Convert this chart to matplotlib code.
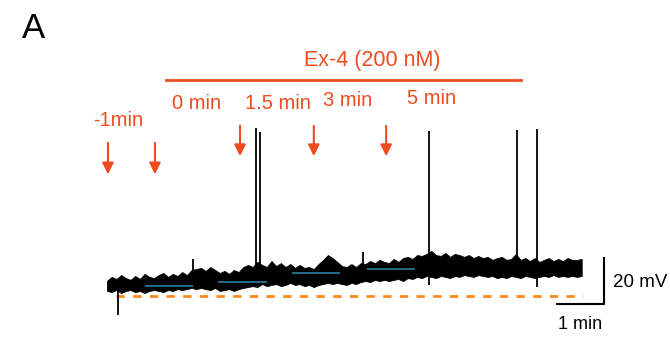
import numpy as np
import matplotlib
matplotlib.use("Agg")
import matplotlib.pyplot as plt

plt.rcParams['font.family'] = ['Liberation Sans', 'DejaVu Sans']

# membrane potential trace, minutes vs mV (relative to the dashed baseline)
t = np.round(np.arange(102) * 0.1, 1)
v_top = [6.6, 8.3, 7.4, 9.1, 7.8, 7.0, 8.7, 7.4, 9.6, 8.3,
         7.8, 9.1, 10.0, 8.3, 9.6, 8.7, 10.4, 9.1, 11.3, 11.7,
         12.2, 10.9, 12.6, 11.3, 10.0, 10.9, 9.6, 11.3, 10.4, 12.6,
         13.5, 12.6, 14.8, 13.5, 12.6, 15.2, 13.0, 14.3, 12.6, 13.9,
         12.2, 13.5, 12.2, 12.6, 11.7, 13.9, 15.7, 17.8, 16.5, 14.8,
         13.0, 12.6, 13.9, 12.6, 14.3, 13.9, 15.2, 14.3, 15.7, 14.8,
         14.3, 16.1, 14.8, 16.5, 17.0, 16.1, 17.8, 17.4, 18.3, 19.6,
         17.8, 17.4, 18.7, 17.0, 18.3, 17.8, 17.0, 17.8, 16.5, 17.4,
         16.5, 17.0, 15.7, 16.5, 17.0, 15.7, 16.1, 18.3, 15.7, 16.5,
         15.2, 16.5, 14.8, 15.7, 16.5, 15.2, 16.1, 15.2, 16.5, 15.7,
         15.7, 16.1]
v_bot = [2.2, 1.7, 2.6, 1.3, 2.2, 2.6, 1.7, 2.2, 1.3, 2.2,
         2.6, 2.2, 1.7, 2.6, 2.2, 3.0, 2.6, 3.0, 3.5, 3.0,
         3.5, 3.0, 2.6, 3.5, 2.2, 2.6, 3.0, 2.2, 3.0, 3.5,
         3.9, 4.3, 3.9, 5.2, 4.3, 4.8, 5.2, 4.3, 4.8, 5.7,
         4.8, 5.2, 4.3, 4.8, 3.9, 4.8, 5.2, 5.7, 5.2, 5.7,
         5.2, 4.8, 5.7, 5.2, 6.1, 6.5, 6.1, 7.0, 6.5, 7.0,
         6.5, 7.0, 7.4, 6.5, 7.8, 7.4, 8.3, 7.8, 8.7, 8.3,
         7.8, 8.7, 8.3, 7.8, 8.7, 8.3, 9.1, 8.7, 8.3, 9.1,
         8.7, 8.3, 8.7, 7.8, 8.3, 7.8, 8.7, 8.3, 7.8, 8.7,
         8.3, 7.8, 8.3, 8.7, 8.3, 9.1, 8.3, 8.7, 8.3, 8.7,
         8.3, 8.7]

# spikes: time, peak, foot
spike_t = [0.23, 1.83, 3.17, 3.26, 5.45, 6.85, 8.72, 9.15]
spike_hi = [4.8, 16.1, 73.0, 71.3, 19.1, 71.7, 72.2, 72.6]
spike_lo = [-8.3, 8.0, 4.8, 5.7, 12.0, 4.8, 8.3, 3.9]

# mean level windows
win_start = [0.81, 2.36, 3.94, 5.53]
win_end = [1.83, 3.40, 4.96, 6.55]
win_level = [4.3, 6.1, 10.0, 11.7]

# time marks
arrow_t = [0.02, 1.02, 2.83, 4.40, 5.94]
arrow_top = [67.8, 67.8, 75.2, 75.2, 75.2]
arrow_tip = [51.7, 51.7, 59.6, 59.6, 59.6]
mark_labels = ['-1min', '0 min', '1.5 min', '3 min', '5 min']
mark_x = [0.23, 1.91, 3.64, 5.13, 6.91]
mark_y = [76.1, 83.9, 83.9, 84.8, 85.7]

red = '#EE4B1E'
orange = '#FF8C1A'
teal = '#236C86'

fig = plt.figure(figsize=(6.7, 3.37), dpi=100)
ax = fig.add_axes([0, 0, 1, 1])
ax.set_xlim(-2.277, 11.979)
ax.set_ylim(-17.83, 128.7)
ax.axis('off')

# baseline
ax.plot([0.19, 10.13], [0, 0], color=orange, lw=2.0, dashes=(3.0, 3.0))

# trace
ax.fill_between(t, v_bot, v_top, facecolor='black', edgecolor='black', lw=0.6)
ax.vlines(spike_t, spike_lo, spike_hi, color='black', lw=1.3)
ax.hlines(win_level, win_start, win_end, color=teal, lw=1.4)

# drug bar
ax.plot([1.26, 8.81], [93.9, 93.9], color=red, lw=2.0)
ax.text(5.64, 102.6, 'Ex-4 (200 nM)', color=red, fontsize=15.5, ha='center', va='center')

for x, y0, y1 in zip(arrow_t, arrow_top, arrow_tip):
    ax.annotate('', xy=(x, y1), xytext=(x, y0),
                arrowprops=dict(arrowstyle='-|>', color=red, lw=1.5, mutation_scale=17))
for lab, x, y in zip(mark_labels, mark_x, mark_y):
    ax.text(x, y, lab, color=red, fontsize=14.5, ha='center', va='center')

# scale bar
ax.plot([9.57, 10.57, 10.57], [-3.5, -3.5, 16.5], color='black', lw=1.5)
ax.text(10.77, 5.7, '20 mV', fontsize=13.5, ha='left', va='center')
ax.text(10.07, -12.2, '1 min', fontsize=13, ha='center', va='center')

fig.text(34 / 670, 1 - 28 / 337, 'A', fontsize=25, ha='center', va='center')

fig.savefig('out.png', dpi=100)
